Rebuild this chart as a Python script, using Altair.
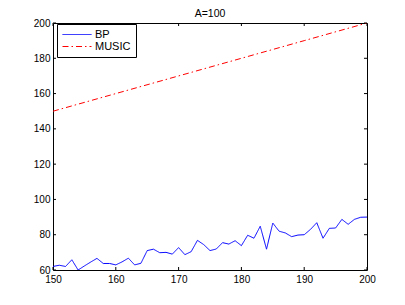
import altair as alt
import pandas as pd

x_vals = list(range(150, 201))
bp_vals = [62.0, 62.7, 62.0, 65.8, 60.0, 62.3, 64.5, 66.6, 63.7, 63.7,
           62.9, 64.6, 66.7, 62.9, 63.8, 71.0, 71.8, 69.8, 70.0, 69.0,
           72.7, 68.7, 70.4, 76.8, 74.4, 71.0, 71.9, 75.5, 74.7, 76.6,
           73.8, 79.7, 78.0, 84.8, 71.8, 86.6, 82.0, 81.0, 78.9, 79.8,
           80.0, 83.0, 86.8, 78.0, 83.6, 83.8, 88.7, 85.9, 88.7, 89.9, 90.0]
music_x = [150, 160, 170, 180, 190, 200]
music_vals = [150, 160, 170, 180, 190, 200]
series_names = ["BP", "MUSIC"]
x_ticks = [150, 160, 170, 180, 190, 200]
y_ticks = [60, 80, 100, 120, 140, 160, 180, 200]
title_text = "A=100"

df = pd.concat([
    pd.DataFrame({"x": x_vals, "y": bp_vals, "series": "BP"}),
    pd.DataFrame({"x": music_x, "y": music_vals, "series": "MUSIC"}),
])

FONT = "Liberation Sans"
W, H = 314, 247
TL = 3

xs = alt.Scale(domain=[150, 200], nice=False, zero=False)
ys = alt.Scale(domain=[60, 200], nice=False, zero=False)
ax_x = alt.Axis(values=x_ticks, title=None, grid=False, ticks=False, domain=False,
                labelPadding=4, labelFlush=False)
ax_y = alt.Axis(values=y_ticks, title=None, grid=False, ticks=False, domain=False,
                labelPadding=3, labelFlush=False)

leg = alt.Legend(title=None)

lines = alt.Chart(df).mark_line(strokeWidth=1, clip=True).encode(
    x=alt.X("x:Q", scale=xs, axis=ax_x),
    y=alt.Y("y:Q", scale=ys, axis=ax_y),
    color=alt.Color("series:N", scale=alt.Scale(domain=series_names, range=["#0000ff", "#ff0000"]), legend=leg),
    strokeDash=alt.StrokeDash("series:N", scale=alt.Scale(domain=series_names, range=[[1, 0], [6, 3, 1.5, 3]]), legend=leg),
)

xdf = pd.DataFrame({"x": x_ticks})
ydf = pd.DataFrame({"y": y_ticks})

bottom = alt.Chart(xdf).mark_rule(color="black", strokeWidth=1).encode(
    x=alt.X("x:Q", scale=xs, axis=ax_x), y=alt.value(H), y2=alt.value(H - TL))
top = alt.Chart(xdf).mark_rule(color="black", strokeWidth=1).encode(
    x=alt.X("x:Q", scale=xs, axis=ax_x), y=alt.value(0), y2=alt.value(TL))
left = alt.Chart(ydf).mark_rule(color="black", strokeWidth=1).encode(
    y=alt.Y("y:Q", scale=ys, axis=ax_y), x=alt.value(0), x2=alt.value(TL))
right = alt.Chart(ydf).mark_rule(color="black", strokeWidth=1).encode(
    y=alt.Y("y:Q", scale=ys, axis=ax_y), x=alt.value(W), x2=alt.value(W - TL))

title = alt.Chart(pd.DataFrame({"t": [title_text]})).mark_text(
    font=FONT, fontSize=10.5, color="black", baseline="alphabetic", align="center", clip=False
).encode(text="t:N", x=alt.value(W / 2), y=alt.value(-6.5))

chart = alt.layer(lines, bottom, top, left, right, title).properties(
    width=W, height=H,
    autosize="none",
    padding={"left": 45, "top": 15, "right": 30, "bottom": 27},
).configure_view(
    stroke="black", strokeWidth=1
).configure_axis(
    labelFont=FONT, labelFontSize=10, labelColor="black"
).configure_legend(
    orient="none", legendX=4, legendY=1, padding=5, strokeColor="black", fillColor="white",
    cornerRadius=0, symbolType="stroke", symbolSize=841, symbolStrokeWidth=1,
    labelFont=FONT, labelFontSize=11, labelColor="black", labelOffset=3, rowPadding=0,
    clipHeight=11,
)

chart.save("out.html", embed_options={"renderer": "svg", "actions": False})
